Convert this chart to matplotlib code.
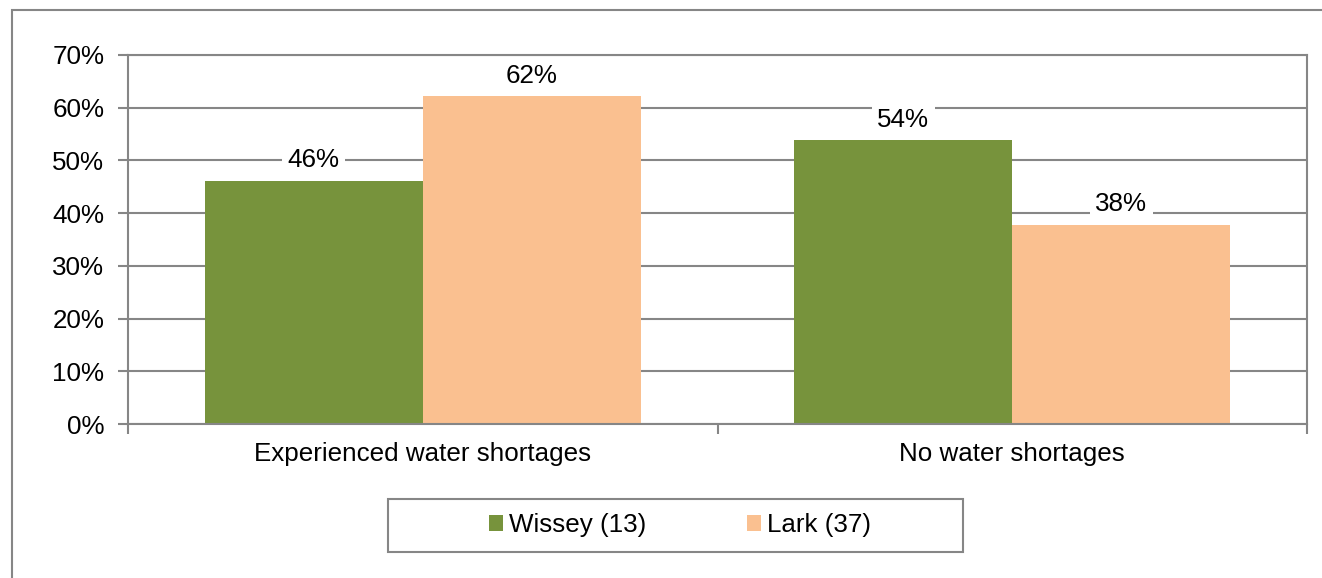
import matplotlib.pyplot as plt
from matplotlib.patches import Rectangle
import numpy as np

# data
categories = ['Experienced water shortages', 'No water shortages']
series_names = ['Wissey (13)', 'Lark (37)']
wissey = [46.15, 53.85]
lark = [62.16, 37.84]
series_colors = ['#77933C', '#FAC090']
y_ticks = [0, 10, 20, 30, 40, 50, 60, 70]

grey = '#868686'
fs = 18.7
plt.rcParams['font.family'] = ['Liberation Sans', 'DejaVu Sans']

fig = plt.figure(figsize=(13.22, 5.78), dpi=100)
ax = fig.add_axes([128 / 1322, 1 - 424 / 578, (1307 - 128) / 1322, (424 - 55) / 578])

# outer chart border
fig.patches.append(Rectangle((12 / 1322, -0.05), 1.1, 1 - 10 / 578 + 0.05,
                             transform=fig.transFigure, fill=False,
                             edgecolor=grey, linewidth=1.5))

x = np.arange(len(categories))
w = 0.37
b1 = ax.bar(x - w / 2, wissey, w, color=series_colors[0], label=series_names[0], zorder=2)
b2 = ax.bar(x + w / 2, lark, w, color=series_colors[1], label=series_names[1], zorder=2)

for bars in (b1, b2):
    labs = ax.bar_label(bars, labels=['%d%%' % round(v) for v in bars.datavalues],
                        padding=6, fontsize=fs, zorder=3)
    for t in labs:
        t.set_bbox(dict(facecolor='white', edgecolor='none', pad=4))

ax.set_xlim(-0.5, 1.5)
ax.set_ylim(0, 70)
ax.set_yticks(y_ticks)
ax.set_yticklabels(['%d%%' % v for v in y_ticks], fontsize=fs)
ax.set_xticks(x)
ax.set_xticklabels(categories, fontsize=fs)
ax.set_xticks([-0.5, 0.5, 1.5], minor=True)
ax.tick_params(axis='x', which='major', length=0, pad=13)
ax.tick_params(axis='x', which='minor', length=7, color=grey, width=1.5)
ax.tick_params(axis='y', length=7, color=grey, width=1.5, pad=10)

ax.set_axisbelow(True)
ax.grid(axis='y', color=grey, linewidth=1.5)
for s in ax.spines.values():
    s.set_color(grey)
    s.set_linewidth(1.5)

# legend box drawn separately, entries sit right of centre like the original
fig.patches.append(Rectangle((388 / 1322, 1 - 552 / 578), 575 / 1322, 53 / 578,
                             transform=fig.transFigure, fill=False,
                             edgecolor=grey, linewidth=1.5))
fig.legend(loc='center', bbox_to_anchor=(680 / 1322, 1 - 525 / 578), ncol=2,
           fontsize=fs, frameon=False, handlelength=0.54, handleheight=0.54,
           handletextpad=0.23, columnspacing=3.85)

plt.savefig('out.png')
plt.close()
